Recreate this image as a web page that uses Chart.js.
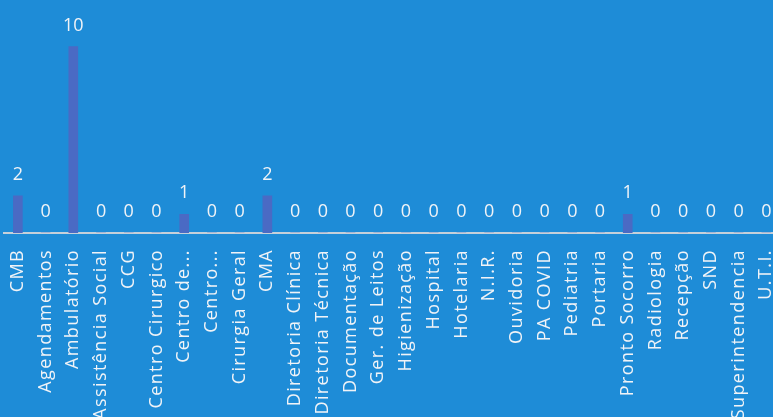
<!DOCTYPE html>
<html>
<head>
<meta charset="utf-8">
<script src="https://cdn.jsdelivr.net/npm/chart.js@4.4.1/dist/chart.umd.min.js"></script>
<style>
  html, body { margin: 0; padding: 0; overflow: hidden; background: #1e8cd7; }
  canvas { display: block; }
</style>
</head>
<body>
<canvas id="chart" width="804" height="417"></canvas>
<script>
// setores e quantidade
const setores = [
    'CMB', 'Agendamentos', 'Ambulatório', 'Assistência Social', 'CCG', 'Centro Cirurgico',
    'Centro de...', 'Centro...', 'Cirurgia Geral', 'CMA', 'Diretoria Clínica', 'Diretoria Técnica',
    'Documentação', 'Ger. de Leitos', 'Higienização', 'Hospital', 'Hotelaria', 'N.I.R.',
    'Ouvidoria', 'PA COVID', 'Pediatria', 'Portaria', 'Pronto Socorro', 'Radiologia',
    'Recepção', 'SND', 'Superintendencia', 'U.T.I.'
];
const quantidade = [
    2, 0, 10, 0, 0, 0,
    1, 0, 0, 2, 0, 0,
    0, 0, 0, 0, 0, 0,
    0, 0, 0, 0, 1, 0,
    0, 0, 0, 0
];

const textColor = '#f0f3f7';

// a bit of extra spacing on the axis labels
const tickSpacing = {
    id: 'tickSpacing',
    beforeDraw(chart) { chart.ctx.letterSpacing = '1.4px'; },
    afterDraw(chart) { chart.ctx.letterSpacing = '0px'; }
};

// value above each bar
const valueLabels = {
    id: 'valueLabels',
    afterDatasetsDraw(chart) {
        const ctx = chart.ctx;
        ctx.save();
        ctx.letterSpacing = '0px';
        ctx.font = '18px "Open Sans"';
        ctx.fillStyle = textColor;
        ctx.textAlign = 'center';
        ctx.textBaseline = 'alphabetic';
        chart.getDatasetMeta(0).data.forEach((bar, i) => {
            ctx.fillText(String(quantidade[i]), bar.x, bar.y - 16);
        });
        ctx.restore();
    }
};

new Chart(document.getElementById('chart'), {
    type: 'bar',
    data: {
        labels: setores,
        datasets: [{
            data: quantidade,
            backgroundColor: '#4a6ac4',
            barThickness: 9
        }]
    },
    options: {
        responsive: false,
        animation: false,
        layout: { padding: { left: 4, right: 4, top: 0, bottom: 0 } },
        plugins: {
            legend: { display: false },
            tooltip: { enabled: false }
        },
        scales: {
            y: { display: false, min: 0, max: 12.5 },
            x: {
                grid: { display: false, drawTicks: false },
                border: { display: true, color: '#c6d0da', width: 2 },
                ticks: {
                    autoSkip: false,
                    minRotation: 90,
                    maxRotation: 90,
                    padding: 16,
                    color: textColor,
                    font: { family: 'Open Sans', size: 18 }
                },
                afterFit(scale) { scale.height = 184; }
            }
        }
    },
    plugins: [tickSpacing, valueLabels]
});
</script>
</body>
</html>
